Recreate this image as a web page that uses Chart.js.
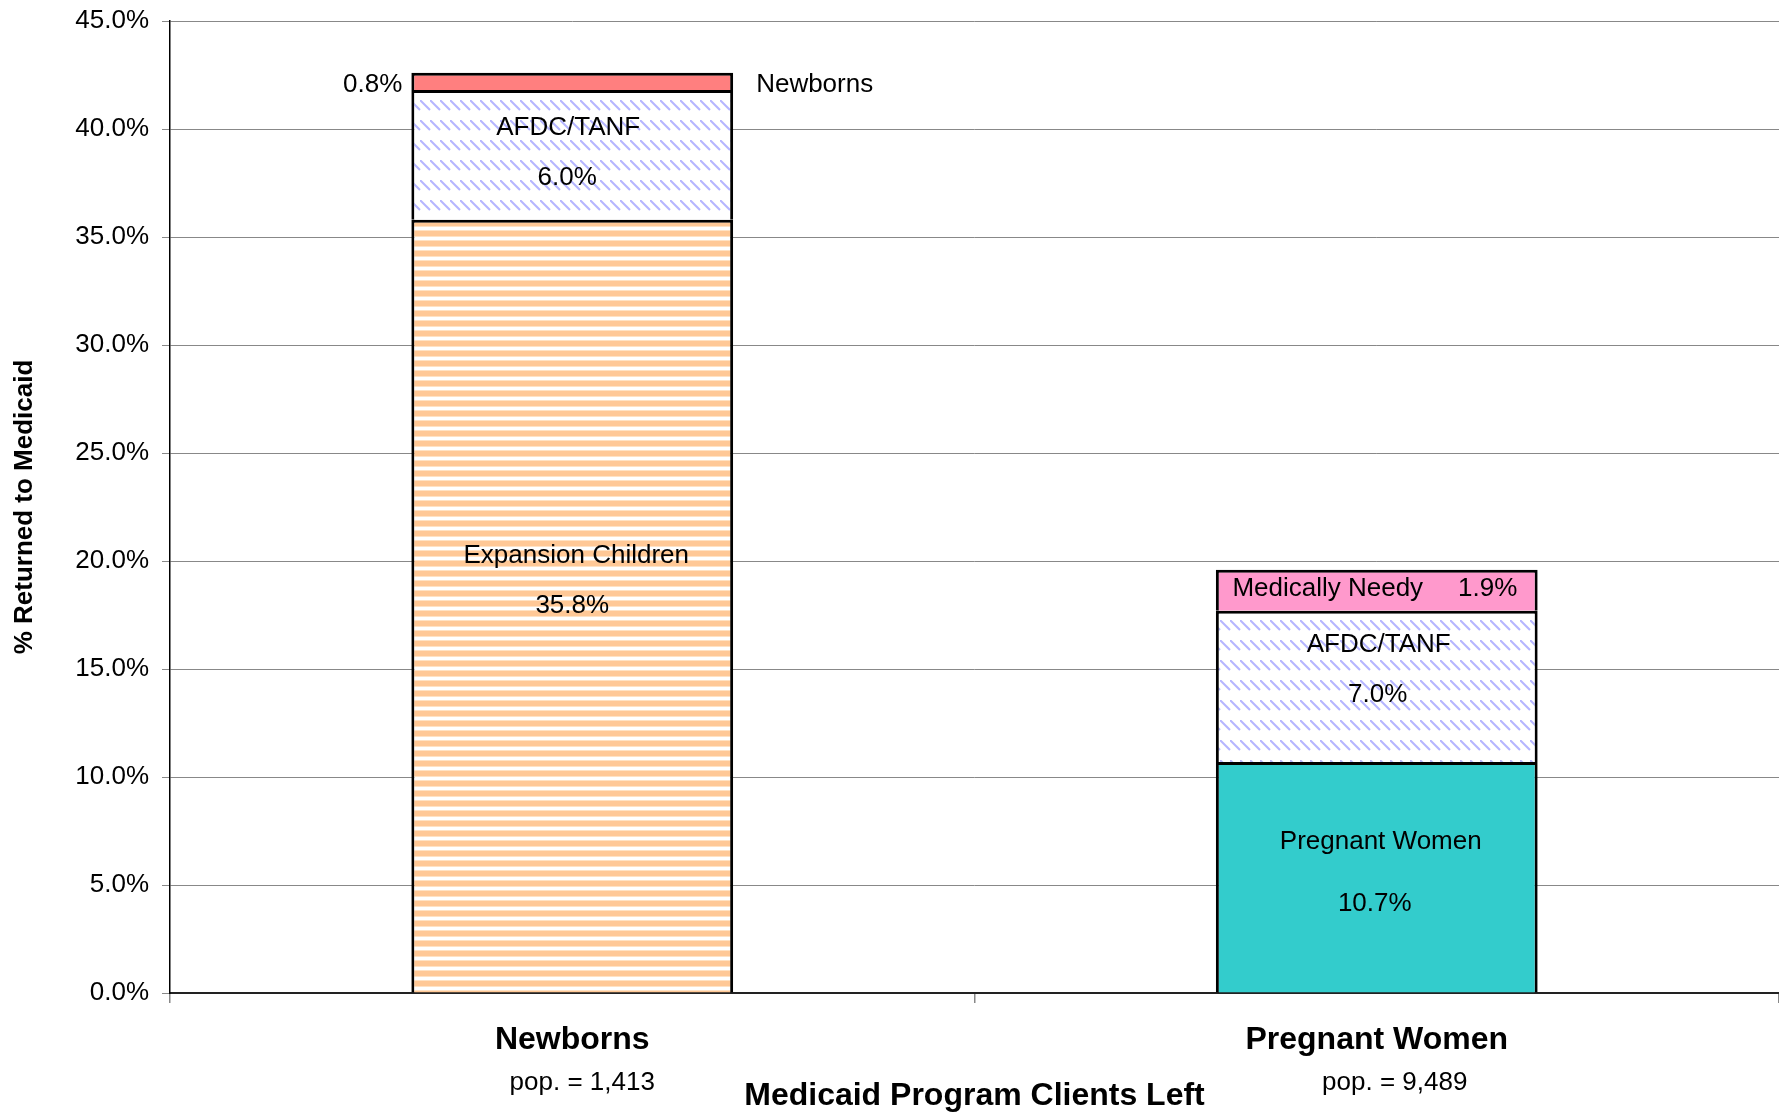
<!DOCTYPE html>
<html>
<head>
<meta charset="utf-8">
<script src="https://cdn.jsdelivr.net/npm/chart.js@4.4.1/dist/chart.umd.min.js"></script>
<style>
  html, body { margin: 0; padding: 0; background: #fff; }
  #c { display: block; }
</style>
</head>
<body>
<canvas id="c" width="1779" height="1114"></canvas>
<script>
// ---------------- data ----------------
const categories = ['Newborns', 'Pregnant Women'];
const popLabels = ['pop. = 1,413', 'pop. = 9,489'];
const expansionChildren = [35.8, null];
const pregnantWomen = [null, 10.7];
const afdcTanf = [6.0, 7.0];
const newborns = [0.8, null];
const medicallyNeedy = [null, 1.9];
const yTicks = [0, 5, 10, 15, 20, 25, 30, 35, 40, 45];
const yAxisTitle = '% Returned to Medicaid';
const xAxisTitle = 'Medicaid Program Clients Left';

const FONT = '"Liberation Sans", Arial, Helvetica, sans-serif';

// ---------------- patterns ----------------
function stripePattern() {
  const c = document.createElement('canvas');
  c.width = 10; c.height = 10;
  const g = c.getContext('2d');
  g.fillStyle = '#ffffff'; g.fillRect(0, 0, 10, 10);
  g.fillStyle = '#FFE2C4'; g.fillRect(0, 0, 10, 1); g.fillRect(0, 6, 10, 1);
  g.fillStyle = '#FFC896'; g.fillRect(0, 1, 10, 5);
  return g.createPattern(c, 'repeat');
}
function diagPattern() {
  const c = document.createElement('canvas');
  c.width = 10; c.height = 20;
  const g = c.getContext('2d');
  g.fillStyle = '#ffffff'; g.fillRect(0, 0, 10, 20);
  g.strokeStyle = 'rgba(120,120,255,0.55)';
  g.lineWidth = 2;
  g.beginPath(); g.moveTo(0, 0); g.lineTo(10, 10); g.stroke();
  g.beginPath(); g.moveTo(-10, 0); g.lineTo(0, 10); g.stroke();
  return g.createPattern(c, 'repeat');
}

// ---------------- annotations (text, offsets from segment centre) ----------------
const segLabels = [
  { ds: 0, i: 0, text: 'Expansion Children', dx: 4, dy: -50 },
  { ds: 0, i: 0, text: '35.8%', dx: 0, dy: 0 },
  { ds: 2, i: 0, text: 'AFDC/TANF', dx: -4, dy: -27 },
  { ds: 2, i: 0, text: '6.0%', dx: -5, dy: 23 },
  { ds: 3, i: 0, text: '0.8%', side: 'left', dx: -9, dy: 3 },
  { ds: 3, i: 0, text: 'Newborns', side: 'right', dx: 23, dy: 3 },
  { ds: 1, i: 1, text: 'Pregnant Women', dx: 4, dy: -35 },
  { ds: 1, i: 1, text: '10.7%', dx: -2, dy: 27 },
  { ds: 2, i: 1, text: 'AFDC/TANF', dx: 2, dy: -41 },
  { ds: 2, i: 1, text: '7.0%', dx: 1, dy: 9 },
  { ds: 4, i: 1, text: 'Medically Needy', dx: -49, dy: -1 },
  { ds: 4, i: 1, text: '1.9%', dx: 111, dy: -1 }
];

const labelPlugin = {
  id: 'segLabels',
  afterDatasetsDraw(chart) {
    const ctx = chart.ctx;
    ctx.save();
    ctx.font = '26px ' + FONT;
    ctx.fillStyle = '#000';
    ctx.textBaseline = 'middle';
    segLabels.forEach(l => {
      const el = chart.getDatasetMeta(l.ds).data[l.i];
      if (!el) return;
      const p = el.getProps(['x', 'y', 'base', 'width'], true);
      const cy = (p.y + p.base) / 2;
      let x;
      if (l.side === 'left') { ctx.textAlign = 'right'; x = p.x - p.width / 2 + l.dx; }
      else if (l.side === 'right') { ctx.textAlign = 'left'; x = p.x + p.width / 2 + l.dx; }
      else { ctx.textAlign = 'center'; x = p.x + l.dx; }
      ctx.fillText(l.text, x, cy + l.dy);
    });
    const xs = chart.scales.x;
    const popDx = [10, 18];
    ctx.textAlign = 'center';
    popLabels.forEach((t, i) => {
      ctx.fillText(t, xs.getPixelForValue(i) + popDx[i], xs.top + 90);
    });
    ctx.restore();
  }
};

const segStyle = { borderColor: '#000', borderWidth: 3, borderSkipped: 'start', barPercentage: 0.4, categoryPercentage: 1.0 };

new Chart(document.getElementById('c'), {
  type: 'bar',
  data: {
    labels: categories,
    datasets: [
      Object.assign({ label: 'Expansion Children', data: expansionChildren, backgroundColor: stripePattern() }, segStyle),
      Object.assign({ label: 'Pregnant Women', data: pregnantWomen, backgroundColor: '#33CCCC' }, segStyle),
      Object.assign({ label: 'AFDC/TANF', data: afdcTanf, backgroundColor: diagPattern() }, segStyle),
      Object.assign({ label: 'Newborns', data: newborns, backgroundColor: '#FF7F7F' }, segStyle),
      Object.assign({ label: 'Medically Needy', data: medicallyNeedy, backgroundColor: '#FF99CC' }, segStyle)
    ]
  },
  options: {
    responsive: false,
    animation: false,
    devicePixelRatio: 1,
    layout: { padding: { top: 21, right: 0, left: 0, bottom: 0 } },
    plugins: { legend: { display: false }, tooltip: { enabled: false }, title: { display: false } },
    scales: {
      x: {
        stacked: true,
        offset: true,
        grid: { display: true, drawOnChartArea: false, drawTicks: true, tickLength: 10, color: '#888', offset: true, lineWidth: 1.5 },
        border: { display: true, color: '#222', width: 2 },
        ticks: { color: '#000', font: { family: FONT, size: 32, weight: 'bold' }, padding: 18, maxRotation: 0, autoSkip: false },
        title: { display: true, text: xAxisTitle, color: '#000', font: { family: FONT, size: 32, weight: 'bold', lineHeight: 1.1 }, padding: { top: 0, bottom: 0 } },
        afterFit(s) { s.height = 121; s.paddingLeft = 0; s.paddingRight = 0; }
      },
      y: {
        stacked: true,
        min: 0, max: 45,
        afterBuildTicks(s) { s.ticks = yTicks.map(v => ({ value: v })); },
        grid: { color: '#888', lineWidth: 1, tickLength: 8, drawTicks: true },
        border: { display: true, color: '#000', width: 1.5 },
        ticks: { color: '#000', font: { family: FONT, size: 26 }, padding: 13, callback: v => v.toFixed(1) + '%' },
        title: { display: true, text: yAxisTitle, color: '#000', font: { family: FONT, size: 26, weight: 'bold', lineHeight: 1.2 }, padding: { top: 9, bottom: 0 } },
        afterFit(s) { s.width = 170; s.paddingTop = 0; s.paddingBottom = 0; }
      }
    }
  },
  plugins: [labelPlugin]
});
</script>
</body>
</html>
